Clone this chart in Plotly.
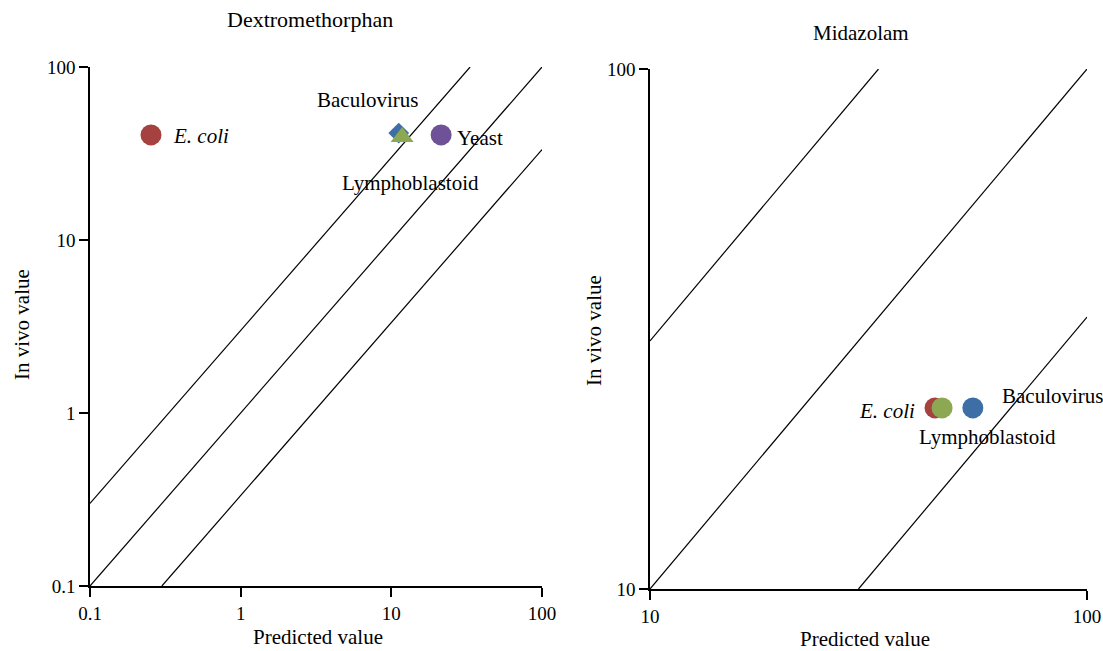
import numpy as np
import plotly.graph_objects as go

# ---- data ----
dex_systems = ["E. coli", "Baculovirus", "Lymphoblastoid", "Yeast"]
dex_predicted = [0.254, 11.2, 11.8, 21.4]
dex_invivo = [40.5, 41.5, 39.4, 40.5]
dex_symbols = ["circle", "diamond", "triangle-up", "circle"]

mid_systems = ["E. coli", "Lymphoblastoid", "Baculovirus"]
mid_predicted = [44.9, 46.6, 54.8]
mid_invivo = [22.3, 22.3, 22.3]

colors = {"E. coli": "#A5413E", "Baculovirus": "#3D6FA6",
          "Lymphoblastoid": "#8CA852", "Yeast": "#6E5196"}

fold = 3.0
dex_range = [0.1, 100]
mid_range = [10, 100]

# label offsets (px) relative to each point
dex_label = {
    "E. coli": dict(xshift=20, yshift=-1, xanchor="left", italic=True),
    "Baculovirus": dict(xshift=-31, yshift=33, xanchor="center", italic=False),
    "Lymphoblastoid": dict(xshift=8, yshift=-46, xanchor="center", italic=False),
    "Yeast": dict(xshift=14, yshift=-3, xanchor="left", italic=False),
}
mid_label = {
    "E. coli": dict(xshift=-18, yshift=-3, xanchor="right", italic=True),
    "Lymphoblastoid": dict(xshift=45, yshift=-29, xanchor="center", italic=False),
    "Baculovirus": dict(xshift=27, yshift=12, xanchor="left", italic=False),
}

FONT = "Liberation Serif"
FS = 21
TFS = 19

fig = go.Figure()


def fold_lines(lo, hi, xa, ya):
    # identity, upper (x*fold) and lower (x/fold) lines clipped to the range
    segs = [
        ([lo, hi], [lo, hi]),
        ([lo, hi / fold], [lo * fold, hi]),
        ([lo * fold, hi], [lo, hi / fold]),
    ]
    for xs, ys in segs:
        fig.add_trace(go.Scatter(x=xs, y=ys, mode="lines",
                                 line=dict(color="black", width=1.2),
                                 xaxis=xa, yaxis=ya, showlegend=False,
                                 hoverinfo="skip", cliponaxis=False))


fold_lines(dex_range[0], dex_range[1], "x", "y")
fold_lines(mid_range[0], mid_range[1], "x2", "y2")

for name, px, py, sym in zip(dex_systems, dex_predicted, dex_invivo, dex_symbols):
    size = 21 if sym == "circle" else (20 if sym == "triangle-up" else 16)
    fig.add_trace(go.Scatter(x=[px], y=[py], mode="markers",
                             marker=dict(color=colors[name], size=size, symbol=sym,
                                         line=dict(width=0)),
                             xaxis="x", yaxis="y", showlegend=False, name=name))

for name, px, py in zip(mid_systems, mid_predicted, mid_invivo):
    fig.add_trace(go.Scatter(x=[px], y=[py], mode="markers",
                             marker=dict(color=colors[name], size=21, symbol="circle",
                                         line=dict(width=0)),
                             xaxis="x2", yaxis="y2", showlegend=False, name=name))

annotations = []
for name, px, py in zip(dex_systems, dex_predicted, dex_invivo):
    o = dex_label[name]
    txt = f"<i>{name}</i>" if o["italic"] else name
    annotations.append(dict(x=np.log10(px), y=np.log10(py), xref="x", yref="y",
                            text=txt, showarrow=False, xanchor=o["xanchor"],
                            yanchor="middle", xshift=o["xshift"], yshift=o["yshift"],
                            font=dict(family=FONT, size=FS, color="black")))
for name, px, py in zip(mid_systems, mid_predicted, mid_invivo):
    o = mid_label[name]
    txt = f"<i>{name}</i>" if o["italic"] else name
    annotations.append(dict(x=np.log10(px), y=np.log10(py), xref="x2", yref="y2",
                            text=txt, showarrow=False, xanchor=o["xanchor"],
                            yanchor="middle", xshift=o["xshift"], yshift=o["yshift"],
                            font=dict(family=FONT, size=FS, color="black")))

W, H = 1103, 651


def fx(x):
    return x / W


def fy(y):
    return 1 - y / H


def pt(x, y, text, angle=0, size=FS):
    annotations.append(dict(x=fx(x), y=fy(y), xref="paper", yref="paper",
                            text=text, showarrow=False, textangle=angle,
                            xanchor="center", yanchor="middle",
                            font=dict(family=FONT, size=size, color="black")))

pt(310, 19, "Dextromethorphan", size=22)
pt(861, 33, "Midazolam")
pt(318, 637, "Predicted value")
pt(865, 639, "Predicted value")
pt(22, 325, "In vivo value", -90)
pt(594, 331, "In vivo value", -90)

dex_ticks = [0.1, 1, 10, 100]
mid_ticks = [10, 100]

axis_common = dict(type="log", showgrid=False, zeroline=False, showline=True,
                   linecolor="black", linewidth=1.5, ticks="outside", ticklen=9,
                   tickwidth=1.5, tickcolor="black", automargin=False,
                   tickfont=dict(family=FONT, size=TFS, color="black"))

fig.update_layout(
    width=W, height=H,
    margin=dict(l=0, r=0, t=0, b=0, pad=0, autoexpand=False),
    paper_bgcolor="white", plot_bgcolor="white",
    xaxis=dict(axis_common, domain=[fx(90), fx(542)], anchor="y",
               range=[np.log10(dex_range[0]), np.log10(dex_range[1])],
               tickvals=dex_ticks, ticktext=[str(t) for t in dex_ticks]),
    yaxis=dict(axis_common, domain=[fy(586), fy(67)], anchor="x",
               range=[np.log10(dex_range[0]), np.log10(dex_range[1])],
               tickvals=dex_ticks, ticktext=[str(t) for t in dex_ticks]),
    xaxis2=dict(axis_common, domain=[fx(650), fx(1087)], anchor="y2",
                range=[np.log10(mid_range[0]), np.log10(mid_range[1])],
                tickvals=mid_ticks, ticktext=[str(t) for t in mid_ticks]),
    yaxis2=dict(axis_common, domain=[fy(589), fy(69)], anchor="x2",
                range=[np.log10(mid_range[0]), np.log10(mid_range[1])],
                tickvals=mid_ticks, ticktext=[str(t) for t in mid_ticks]),
    annotations=annotations,
    showlegend=False,
)

# remove the default page margin so the 1103x651 figure fills the window exactly
fig.write_html("out.html",
               config={"displayModeBar": False},
               post_script="document.body.style.margin='0px';"
                           "document.body.style.overflow='hidden';")
